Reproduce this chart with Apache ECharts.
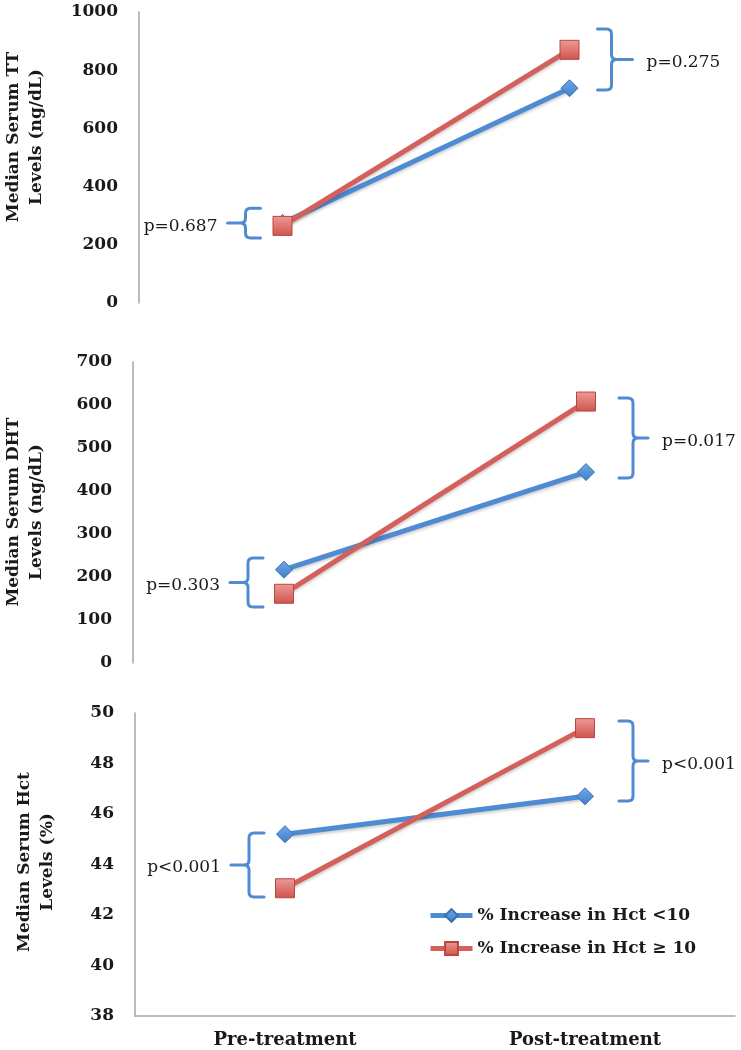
<!DOCTYPE html>
<html><head><meta charset="utf-8">
<script src="https://cdn.jsdelivr.net/npm/echarts@6/dist/echarts.min.js"></script>
<style>html,body{margin:0;padding:0;background:#fff}#c{width:741px;height:1050px}</style>
</head><body><div id="c"></div>
<script>
// ---- data ----
const categories = ['Pre-treatment', 'Post-treatment'];
const seriesNames = ['% Increase in Hct <10', '% Increase in Hct \u2265 10'];
const ttLow = [275, 738];
const ttHigh = [265, 870];
const dhtLow = [217, 444];
const dhtHigh = [161, 608];
const hctLow = [45.2, 46.7];
const hctHigh = [43.06, 49.4];
const yTitles = ['Median Serum TT\nLevels (ng/dL)', 'Median Serum DHT\nLevels (ng/dL)', 'Median Serum Hct\nLevels (%)'];
const yMin = [0, 0, 38];
const yMax = [1000, 700, 50];
const yStep = [200, 100, 2];
// brackets: [category index, lower value, upper value]
const ttBrackets = [[0, 223, 326], [1, 732, 942]];
const dhtBrackets = [[0, 130, 244], [1, 430, 616]];
const hctBrackets = [[0, 42.71, 45.25], [1, 46.51, 49.68]];
const ttP = ['p=0.687', 'p=0.275'];
const dhtP = ['p=0.303', 'p=0.017'];
const hctP = ['p<0.001', 'p<0.001'];

// ---- styling ----
const SERIF = "'DejaVu Serif', 'Liberation Serif', serif";
const BLUE = '#4f8bd2';
const RED = '#d3605a';
const BRACE = '#4f8bd2';
const grids = [
  { left: 139, width: 574, top: 12, height: 291 },
  { left: 133, width: 604, top: 362, height: 301 },
  { left: 135, width: 600, top: 713, height: 303 }
];
const titlePos = [[25, 137], [25, 512], [36, 862]];
// [left brace offset, right brace offset, right tick length]
const braceOff = [[-37, 42, 21], [-36, 47, 15], [-36, 48, 15]];

const lowData = [ttLow, dhtLow, hctLow];
const highData = [ttHigh, dhtHigh, hctHigh];
const brData = [ttBrackets, dhtBrackets, hctBrackets];
const pData = [ttP, dhtP, hctP];

function bracketRender(labels, offs) {
  return function (params, api) {
    const idx = api.value(0);
    const top = api.coord([idx, api.value(2)]);
    const bot = api.coord([idx, api.value(1)]);
    const cx = top[0];
    const yT = top[1], yB = bot[1], yM = (yT + yB) / 2;
    const r = 5;
    let d, tx, align;
    if (idx === 0) {
      const v = cx + offs[0], e = v + 15, t = v - 18;
      d = 'M' + e + ' ' + yT + ' L' + (v + r) + ' ' + yT + ' Q' + v + ' ' + yT + ' ' + v + ' ' + (yT + r) +
        ' L' + v + ' ' + (yM - r) + ' Q' + v + ' ' + yM + ' ' + (v - r) + ' ' + yM + ' L' + t + ' ' + yM +
        ' M' + (v - r) + ' ' + yM + ' Q' + v + ' ' + yM + ' ' + v + ' ' + (yM + r) +
        ' L' + v + ' ' + (yB - r) + ' Q' + v + ' ' + yB + ' ' + (v + r) + ' ' + yB + ' L' + e + ' ' + yB;
      tx = t - 10; align = 'right';
    } else {
      const v = cx + offs[1], e = v - 14, t = v + offs[2];
      d = 'M' + e + ' ' + yT + ' L' + (v - r) + ' ' + yT + ' Q' + v + ' ' + yT + ' ' + v + ' ' + (yT + r) +
        ' L' + v + ' ' + (yM - r) + ' Q' + v + ' ' + yM + ' ' + (v + r) + ' ' + yM + ' L' + t + ' ' + yM +
        ' M' + (v + r) + ' ' + yM + ' Q' + v + ' ' + yM + ' ' + v + ' ' + (yM + r) +
        ' L' + v + ' ' + (yB - r) + ' Q' + v + ' ' + yB + ' ' + (v - r) + ' ' + yB + ' L' + e + ' ' + yB;
      tx = t + 14; align = 'left';
    }
    return {
      type: 'group',
      children: [
        { type: 'path', shape: { pathData: d }, style: { fill: null, stroke: BRACE, lineWidth: 3, lineCap: 'round', lineJoin: 'round' } },
        { type: 'text', x: tx, y: yM + 3, style: { text: labels[idx], fill: '#1a1a1a', font: '17px ' + SERIF, align: align, verticalAlign: 'middle' } }
      ]
    };
  };
}

const xAxes = [], yAxes = [], series = [], graphics = [];
for (let i = 0; i < 3; i++) {
  xAxes.push({
    gridIndex: i, type: 'category', data: categories, boundaryGap: true,
    show: i === 2,
    axisLine: { show: true, lineStyle: { color: '#a6a6a6', width: 1.5 } },
    axisTick: { show: false },
    axisLabel: { fontFamily: SERIF, fontWeight: 'bold', fontSize: 18, color: '#1a1a1a', margin: 15 }
  });
  yAxes.push({
    gridIndex: i, type: 'value', min: yMin[i], max: yMax[i], interval: yStep[i],
    axisLine: { show: true, lineStyle: { color: '#a6a6a6', width: 1.5 } },
    axisTick: { show: false },
    splitLine: { show: false },
    axisLabel: { fontFamily: SERIF, fontWeight: 'bold', fontSize: 17, color: '#1a1a1a', margin: 21, formatter: v => String(v) }
  });
  graphics.push({
    type: 'text', x: titlePos[i][0], y: titlePos[i][1], rotation: Math.PI / 2,
    style: { text: yTitles[i], font: 'bold 17px ' + SERIF, fill: '#1a1a1a', align: 'center', verticalAlign: 'middle', lineHeight: 23 },
    silent: true
  });
  series.push({
    name: seriesNames[0], type: 'line', xAxisIndex: i, yAxisIndex: i, data: lowData[i],
    symbol: 'diamond', symbolSize: 17,
    lineStyle: { color: BLUE, width: 5, shadowColor: 'rgba(0,0,0,0.2)', shadowBlur: 3, shadowOffsetY: 2 },
    itemStyle: {
      color: { type: 'linear', x: 0, y: 0, x2: 0, y2: 1, colorStops: [{ offset: 0, color: '#6fa8e6' }, { offset: 1, color: '#3f7fc8' }] },
      borderColor: '#3a70b3', borderWidth: 1
    },
    emphasis: { disabled: true }, animation: false, z: 3
  });
  series.push({
    name: seriesNames[1], type: 'line', xAxisIndex: i, yAxisIndex: i, data: highData[i],
    symbol: 'rect', symbolSize: 19,
    lineStyle: { color: RED, width: 5, shadowColor: 'rgba(0,0,0,0.2)', shadowBlur: 3, shadowOffsetY: 2 },
    itemStyle: {
      color: { type: 'linear', x: 0, y: 0, x2: 0, y2: 1, colorStops: [{ offset: 0, color: '#ee9a95' }, { offset: 1, color: '#d0534e' }] },
      borderColor: '#b9453f', borderWidth: 1
    },
    emphasis: { disabled: true }, animation: false, z: 4
  });
  series.push({
    type: 'custom', xAxisIndex: i, yAxisIndex: i, data: brData[i],
    encode: { x: 0, y: [1, 2] },
    renderItem: bracketRender(pData[i], braceOff[i]),
    silent: true, animation: false, z: 2
  });
}

const chart = echarts.init(document.getElementById('c'), null, { renderer: 'canvas' });
chart.setOption({
  backgroundColor: '#ffffff',
  animation: false,
  grid: grids.map(g => Object.assign({ outerBoundsMode: 'none', containLabel: false }, g)),
  xAxis: xAxes,
  yAxis: yAxes,
  graphic: graphics,
  legend: {
    data: seriesNames, orient: 'vertical', left: 428, top: 907, itemGap: 16, padding: 0,
    itemWidth: 42, itemHeight: 16,
    lineStyle: { width: 5 },
    textStyle: { fontFamily: SERIF, fontWeight: 'bold', fontSize: 17, color: '#1a1a1a' },
    selectedMode: false
  },
  series: series
});
</script>
</body></html>
